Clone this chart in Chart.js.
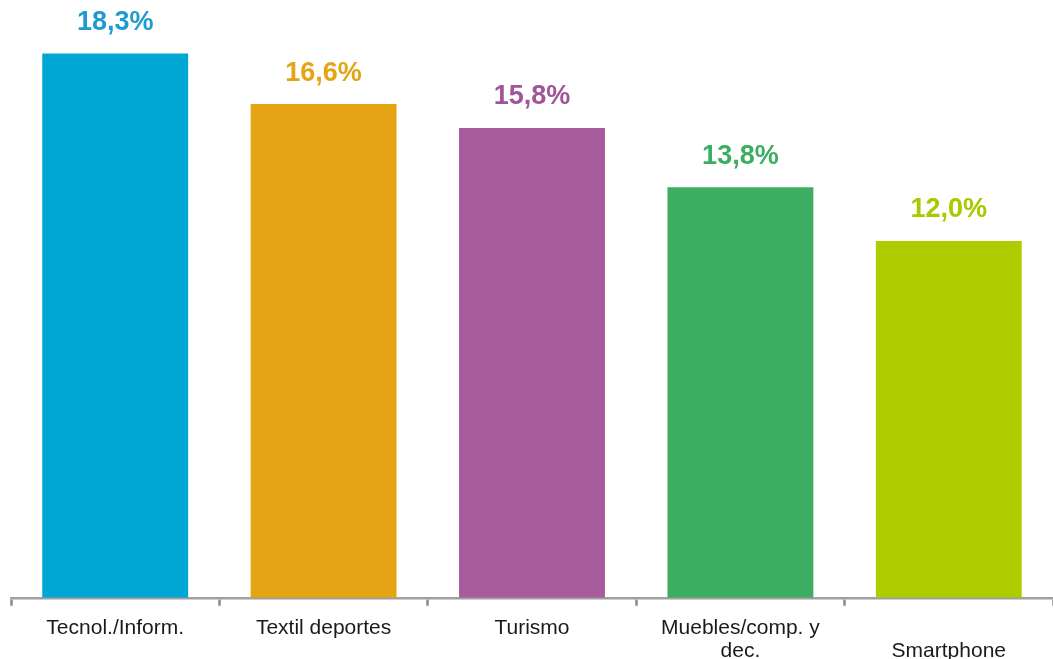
<!DOCTYPE html>
<html><head><meta charset="utf-8">
<script src="https://cdn.jsdelivr.net/npm/chart.js@4"></script>
<style>html,body{margin:0;padding:0;background:#fff}#w{width:1053px;height:659px}</style>
</head><body><div id="w"><canvas id="c"></canvas></div>
<script>
const categories = [["Tecnol./Inform."], ["Textil deportes"], ["Turismo"], ["Muebles/comp. y", "dec."], ["", "Smartphone"]];
const values = [18.3, 16.6, 15.8, 13.8, 12.0];
const valueLabels = ["18,3%", "16,6%", "15,8%", "13,8%", "12,0%"];
const barColors = ["#00A7D3", "#E5A413", "#A85B9C", "#3DAD62", "#AFCC00"];
const labelColors = ["#1F9BD0", "#E5A413", "#A0559A", "#3DAD62", "#A9C800"];

const valuePlugin = {
  id: 'valueLabels',
  afterDatasetsDraw(chart) {
    const ctx = chart.ctx;
    const meta = chart.getDatasetMeta(0);
    ctx.save();
    ctx.font = 'bold 27px "Liberation Sans", Arial, sans-serif';
    ctx.textAlign = 'center';
    ctx.textBaseline = 'middle';
    meta.data.forEach((bar, i) => {
      ctx.fillStyle = labelColors[i];
      ctx.fillText(valueLabels[i], bar.x, bar.y - 31);
    });
    ctx.restore();
  }
};

new Chart(document.getElementById('c'), {
  type: 'bar',
  data: {
    labels: categories,
    datasets: [{ data: values, backgroundColor: barColors, categoryPercentage: 1, barPercentage: 0.70 }]
  },
  options: {
    responsive: true, maintainAspectRatio: false, animation: false,
    layout: { padding: { left: 11, right: 0, top: 0, bottom: -15 } },
    plugins: { legend: { display: false }, tooltip: { enabled: false } },
    scales: {
      y: { display: false, min: 0, max: 20.1 },
      x: {
        offset: true,
        border: { display: true, color: '#A0A0A0', width: 2.5 },
        grid: { display: true, offset: true, drawOnChartArea: false, drawTicks: true, tickLength: 8, color: '#8A8A8A', tickWidth: 2.5 },
        ticks: { color: '#1a1a1a', font: { family: '"Liberation Sans", Arial, sans-serif', size: 21, lineHeight: 1.1 }, padding: 11, maxRotation: 0, autoSkip: false }
      }
    }
  },
  plugins: [valuePlugin]
});
</script></body></html>
